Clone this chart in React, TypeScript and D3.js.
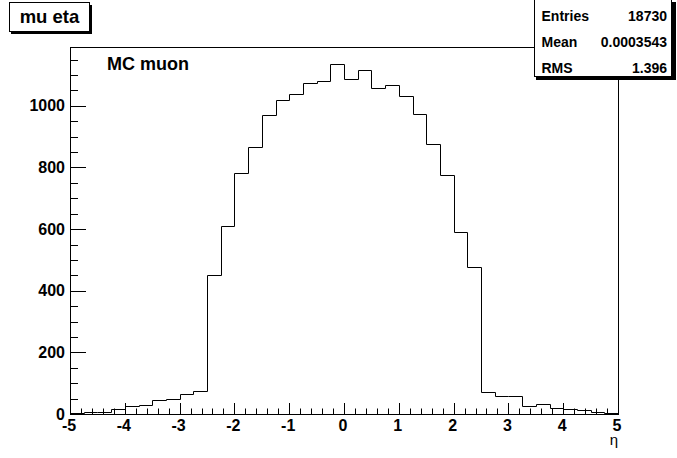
import React from "react";
import * as d3 from "d3";

// Histogram: mu eta, 40 bins from -5 to 5
const xMin = -5;
const xMax = 5;
const binWidth = 0.25;
const counts = [
  4, 7, 7, 17, 25, 28, 47, 50, 65, 75,
  450, 609, 781, 868, 970, 1019, 1040, 1075, 1080, 1137,
  1087, 1115, 1057, 1069, 1032, 972, 875, 774, 592, 476,
  71, 58, 59, 25, 33, 19, 15, 12, 7, 4,
];
const yMax = 1191;
const yMajorTicks = [0, 200, 400, 600, 800, 1000];
const yMinorTicks = [50, 100, 150, 250, 300, 350, 450, 500, 550, 650, 700, 750, 850, 900, 950, 1050, 1100, 1150];
const xMajorTicks = [-5, -4, -3, -2, -1, 0, 1, 2, 3, 4, 5];
const histTitle = "mu eta";
const plotLabel = "MC muon";
const xTitle = "η";
const statLabels = ["Entries", "Mean", "RMS"];
const statValues = ["18730", "0.0003543", "1.396"];

const FONT = "'Liberation Sans', Arial, Helvetica, sans-serif";

export default function App() {
  const W = 677;
  const H = 458;
  const left = 70;
  const right = 618;
  const top = 47;
  const bottom = 414;

  const x = d3.scaleLinear().domain([xMin, xMax]).range([left, right]);
  const y = d3.scaleLinear().domain([0, yMax]).range([bottom, top]);

  const pts: [number, number][] = [[x(xMin), y(0)]];
  counts.forEach((c, i) => {
    const lo = xMin + i * binWidth;
    const hi = lo + binWidth;
    pts.push([x(lo), y(c)]);
    pts.push([x(hi), y(c)]);
  });
  pts.push([x(xMax), y(0)]);
  const path = d3.line()(pts.map(([a, b]) => [Math.round(a) + 0.5, Math.round(b) + 0.5] as [number, number])) || "";

  const xMinor: number[] = [];
  for (let k = 0; k <= 50; k++) {
    const v = xMin + k * 0.2;
    if (k % 5 !== 0) xMinor.push(v);
  }

  const px = (v: number) => Math.round(x(v)) + 0.5;
  const py = (v: number) => Math.round(y(v)) + 0.5;

  return (
    <svg width={W} height={H} style={{ position: "absolute", left: 0, top: 0, background: "#fff" }} fontFamily={FONT}>
      <rect x={0} y={0} width={W} height={H} fill="#fff" />
      {/* frame */}
      <rect x={left + 0.5} y={top + 0.5} width={right - left} height={bottom - top} fill="none" stroke="#000" strokeWidth={1} />
      {/* histogram */}
      <path d={path} fill="none" stroke="#000" strokeWidth={1} />
      {/* y ticks */}
      {yMajorTicks.map((v) => (
        <g key={"ym" + v}>
          <line x1={left} x2={left + 16} y1={py(v)} y2={py(v)} stroke="#000" />
          <text x={65} y={y(v) + 5.6} textAnchor="end" fontSize={16} fontWeight="bold">{v}</text>
        </g>
      ))}
      {yMinorTicks.map((v) => (
        <line key={"yn" + v} x1={left} x2={left + 8} y1={py(v)} y2={py(v)} stroke="#000" />
      ))}
      {/* x ticks */}
      {xMajorTicks.map((v) => (
        <g key={"xm" + v}>
          <line x1={px(v)} x2={px(v)} y1={bottom} y2={bottom - 11} stroke="#000" />
          <text x={x(v) - 1} y={431} textAnchor="middle" fontSize={16} fontWeight="bold">{v}</text>
        </g>
      ))}
      {xMinor.map((v, i) => (
        <line key={"xn" + i} x1={px(v)} x2={px(v)} y1={bottom} y2={bottom - 5.5} stroke="#000" />
      ))}
      <text x={618} y={445} textAnchor="end" fontSize={15}>{xTitle}</text>
      {/* plot label */}
      <text x={107} y={69.5} fontSize={18} fontWeight="bold">{plotLabel}</text>
      {/* title box */}
      <rect x={11} y={5} width={81} height={29} fill="#000" />
      <rect x={9.5} y={2.5} width={80} height={29} fill="#fff" stroke="#000" />
      <text x={49.5} y={23} textAnchor="middle" fontSize={18.5} fontWeight="bold">{histTitle}</text>
      {/* stats box */}
      <rect x={536} y={2} width={140} height={78} fill="#000" />
      <rect x={534.5} y={-0.5} width={137} height={77} fill="#fff" stroke="#000" />
      {statLabels.map((s, i) => (
        <g key={s}>
          <text x={541.5} y={20.5 + i * 26} fontSize={14} fontWeight="bold">{s}</text>
          <text x={667} y={20.5 + i * 26} textAnchor="end" fontSize={14} fontWeight="bold">{statValues[i]}</text>
        </g>
      ))}
    </svg>
  );
}
